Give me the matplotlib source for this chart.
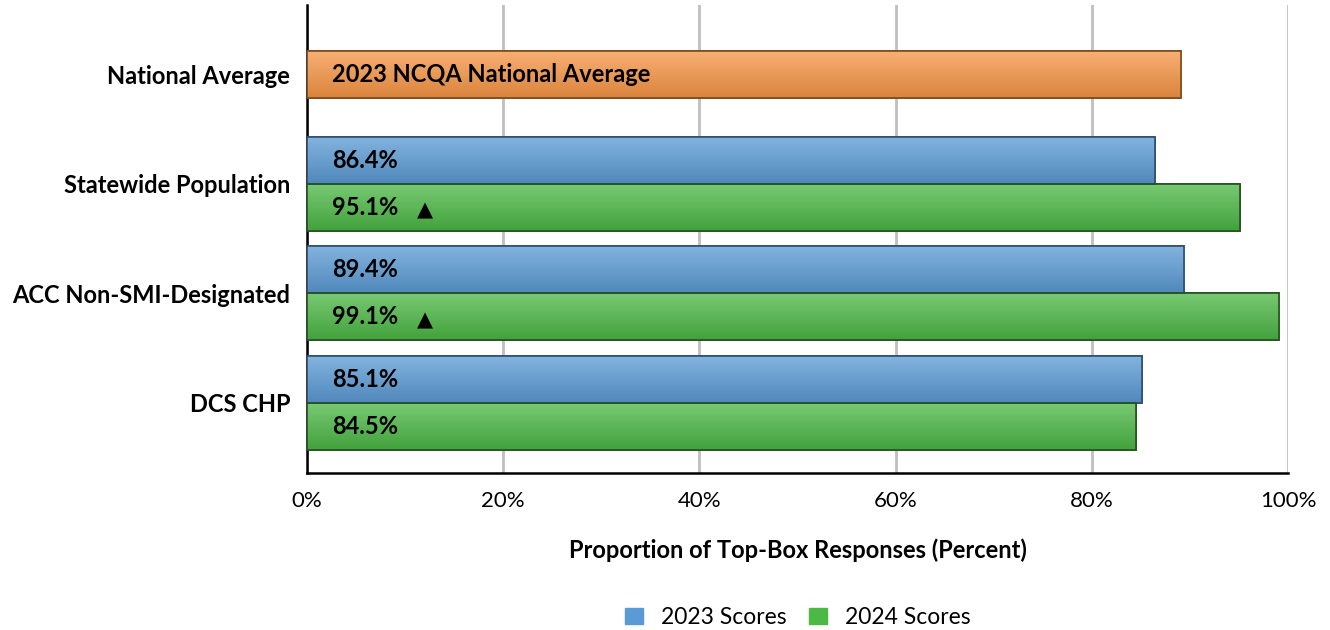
import numpy as np
import matplotlib.pyplot as plt
from matplotlib.colors import to_rgb
from matplotlib.patches import Patch

# data
categories = ['National Average', 'Statewide Population', 'ACC Non-SMI-Designated', 'DCS CHP']
national_avg = 89.1
national_label = '2023 NCQA National Average'
scores_2023 = [86.4, 89.4, 85.1]
scores_2024 = [95.1, 99.1, 84.5]
up_2024 = [True, True, False]
xticks = [0, 20, 40, 60, 80, 100]

plt.rcParams['font.family'] = ['Lato', 'DejaVu Sans']

fig = plt.figure(figsize=(13.3, 6.3), dpi=100)
ax = fig.add_axes([0.2308, 0.2492, 0.7376, 0.7428])

orange = '#F79646'
blue = '#5B9BD5'
green = '#4CB845'


def gradient_bar(ax, y, w, h, color, edge):
    # barra con degradado vertical (mas claro arriba)
    bar = ax.barh(y, w, height=h, color=color, edgecolor=edge, linewidth=1.2, zorder=3)[0]
    c = np.array(to_rgb(color))
    top = c + (1 - c) * 0.25
    bot = c * 0.88
    t = np.linspace(0, 1, 64)[:, None]
    img = top * (1 - t[..., None]) + bot * t[..., None]
    img = np.repeat(img, 2, axis=1)
    im = ax.imshow(img, extent=[0, w, y - h / 2, y + h / 2], aspect='auto',
                   origin='upper', zorder=3.5, interpolation='bilinear')
    im.set_clip_path(bar)
    ax.barh(y, w, height=h, color='none', edgecolor=edge, linewidth=1.2, zorder=4)
    return bar


h = 0.43
ypos = [3, 2, 1, 0]

gradient_bar(ax, ypos[0], national_avg, h, orange, '#7a4a1e')
ax.text(2.6, ypos[0], national_label, va='center', ha='left', fontsize=17,
        fontweight='bold', color='black', zorder=5)

for i in range(3):
    yc = ypos[i + 1]
    gradient_bar(ax, yc + h / 2, scores_2023[i], h, blue, '#2f4f6f')
    gradient_bar(ax, yc - h / 2, scores_2024[i], h, green, '#24521f')
    ax.text(2.6, yc + h / 2, f'{scores_2023[i]:.1f}%', va='center', ha='left',
            fontsize=17, fontweight='bold', zorder=5)
    ax.text(2.6, yc - h / 2, f'{scores_2024[i]:.1f}%', va='center', ha='left',
            fontsize=17, fontweight='bold', zorder=5)
    if up_2024[i]:
        ax.text(12, yc - h / 2 - 0.03, '▲', va='center', ha='center', fontsize=15,
                family='DejaVu Sans', zorder=5)

ax.set_xlim(0, 100)
ax.set_ylim(-0.64, 3.63)
ax.set_yticks(ypos)
ax.set_yticklabels(categories, fontsize=17, fontweight='bold')
ax.set_xticks(xticks)
ax.set_xticklabels([f'{v}%' for v in xticks], fontsize=16)
ax.tick_params(axis='y', length=0, pad=12)
ax.tick_params(axis='x', length=0, pad=13)

ax.xaxis.grid(True, color='#BFBFBF', linewidth=2, zorder=0)
ax.set_axisbelow(True)
for s in ['top', 'right']:
    ax.spines[s].set_visible(False)
ax.spines['left'].set_linewidth(1.8)
ax.spines['bottom'].set_linewidth(1.8)

ax.set_xlabel('Proportion of Top-Box Responses (Percent)', fontsize=17,
              fontweight='bold', labelpad=20)

handles = [Patch(color=blue, label='2023 Scores'), Patch(color=green, label='2024 Scores')]
fig.legend(handles=handles, loc='center', bbox_to_anchor=(0.6, 0.02), ncol=2,
           frameon=False, fontsize=16.5, handlelength=0.75, handleheight=0.75,
           columnspacing=1.0, handletextpad=0.8)

plt.savefig('out.png', dpi=100)
